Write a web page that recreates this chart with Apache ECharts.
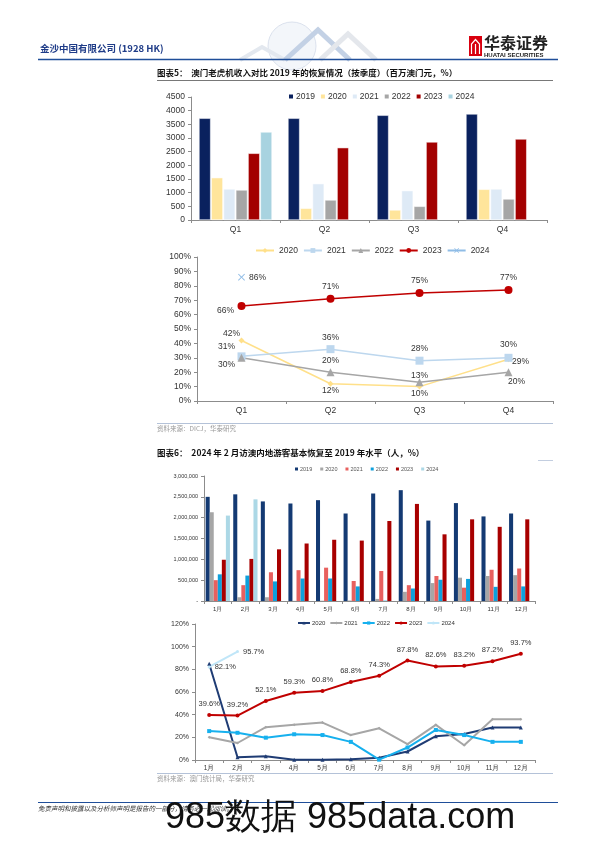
<!DOCTYPE html>
<html><head><meta charset="utf-8">
<script src="https://cdn.jsdelivr.net/npm/echarts@6/dist/echarts.min.js"></script>
<style>html,body{margin:0;padding:0;background:#fff}#c{width:596px;height:842px}</style>
</head><body><div id="c"></div>
<script>
// ---------- Chart 1: slot revenue by quarter (MOP mn) ----------
const quarters = ['Q1', 'Q2', 'Q3', 'Q4'];
const slot2019 = [3720, 3720, 3830, 3878];
const slot2020 = [1548, 427, 366, 1122];
const slot2021 = [1134, 1329, 1073, 1134];
const slot2022 = [1098, 732, 500, 768];
const slot2023 = [2439, 2646, 2854, 2963];
const slot2024 = [3220, null, null, null];
const slotTicks = [0, 500, 1000, 1500, 2000, 2500, 3000, 3500, 4000, 4500];
// ---------- Chart 2: recovery vs 2019 (%) ----------
const rec2020 = [42, 12, 10, 29];
const rec2021 = [31, 36, 28, 30];
const rec2022 = [30, 20, 13, 20];
const rec2023 = [66, 71, 75, 77];
const rec2024 = [86, null, null, null];
const recTicks = [0, 10, 20, 30, 40, 50, 60, 70, 80, 90, 100];
// ---------- Chart 3: mainland visitors by month ----------
const months = ['1月', '2月', '3月', '4月', '5月', '6月', '7月', '8月', '9月', '10月', '11月', '12月'];
const vis2019 = [2500000, 2560000, 2390000, 2340000, 2420000, 2100000, 2580000, 2660000, 1930000, 2350000, 2030000, 2100000];
const vis2020 = [2130000, 90000, 90000, 4000, 7000, 12000, 50000, 220000, 430000, 560000, 600000, 620000];
const vis2021 = [500000, 380000, 690000, 740000, 800000, 480000, 720000, 380000, 600000, 320000, 750000, 780000];
const vis2022 = [640000, 610000, 470000, 540000, 540000, 350000, 8000, 300000, 510000, 530000, 340000, 350000];
const vis2023 = [990000, 1010000, 1240000, 1380000, 1470000, 1450000, 1920000, 2330000, 1600000, 1960000, 1780000, 1960000];
const vis2024 = [2050000, 2440000, null, null, null, null, null, null, null, null, null, null];
const visTicks = [0, 500000, 1000000, 1500000, 2000000, 2500000, 3000000];
// ---------- Chart 4: visitors vs 2019 (%) ----------
const pct2020 = [85, 2.5, 3.3, 0.2, 0.3, 0.6, 2.0, 7.5, 21, 23, 28.6, 28.6];
const pct2021 = [20, 15, 29, 31, 33, 22, 28, 14, 31, 13, 36, 36];
const pct2022 = [25.5, 24, 19.7, 22.7, 22, 16, 0.3, 11, 26.5, 22, 16, 16];
const pct2023 = [39.6, 39.2, 52.1, 59.3, 60.8, 68.8, 74.3, 87.8, 82.6, 83.2, 87.2, 93.7];
const pct2024 = [82.1, 95.7, null, null, null, null, null, null, null, null, null, null];
const pctTicks = [0, 20, 40, 60, 80, 100, 120];

const NUM = 'Liberation Sans, Arial, sans-serif';
const CJK = '"Noto Sans CJK SC", sans-serif';
const trimName = n => n.trim();
const thousands = v => v === 0 ? '-' : String(v).replace(/\B(?=(\d{3})+(?!\d))/g, ',');
const axisGray = '#8c8c8c';

function catAxis(grid, data, fs) {
  return {
    type: 'category', gridIndex: grid, data: data,
    axisLine: { lineStyle: { color: axisGray, width: 1 } },
    axisTick: { show: true, length: 3, lineStyle: { color: axisGray } },
    axisLabel: { fontFamily: NUM, fontSize: fs, color: '#333', margin: 5 }
  };
}
function valAxis(grid, ticks, fs, fmt) {
  return {
    type: 'value', gridIndex: grid, min: ticks[0], max: ticks[ticks.length - 1],
    interval: ticks[1] - ticks[0],
    axisLine: { show: true, lineStyle: { color: axisGray, width: 1 } },
    axisTick: { show: true, length: 3, lineStyle: { color: axisGray } },
    splitLine: { show: false },
    axisLabel: { fontFamily: NUM, fontSize: fs, color: '#333', margin: 6, formatter: fmt }
  };
}

// chart 1 bars
const c1Colors = ['#0a215e', '#ffe59b', '#deeaf6', '#a6a6a6', '#a30000', '#a8d3e0'];
const c1Data = [slot2019, slot2020, slot2021, slot2022, slot2023, slot2024];
const c1Names = ['2019', '2020', '2021', '2022', '2023', '2024'];
const series = [];
c1Data.forEach((d, i) => series.push({
  name: c1Names[i], type: 'bar', xAxisIndex: 0, yAxisIndex: 0, data: d,
  itemStyle: { color: c1Colors[i], borderColor: '#fff', borderWidth: 0.5 },
  barCategoryGap: '18%', barGap: '6%'
}));

// chart 2 lines
const c2Names = ['2020 ', '2021 ', '2022 ', '2023 ', '2024 '];
const c2Data = [rec2020, rec2021, rec2022, rec2023, rec2024];
const c2Colors = ['#ffe08a', '#bdd7ee', '#a6a6a6', '#c00000', '#8fbce6'];
const xPath = 'path://M0,1L1,0L5,4L9,0L10,1L6,5L10,9L9,10L5,6L1,10L0,9L4,5Z';
const c2Symbols = ['diamond', 'rect', 'triangle', 'circle', xPath];
const c2Sizes = [6, 8, 8, 8, 7];
const c2Offsets = [
  [[-10, -7], [0, 7], [0, 7], [12, 2]],
  [[-15, -10], [0, -12], [0, -12], [0, -13]],
  [[-15, 7], [0, -12], [0, -7], [8, 9]],
  [[-16, 5], [0, -12], [0, -12], [0, -12]],
  [[16, 0], [0, 0], [0, 0], [0, 0]]
];
c2Data.forEach((d, i) => series.push({
  name: c2Names[i], type: 'line', xAxisIndex: 1, yAxisIndex: 1,
  data: d.map((v, j) => ({ value: v, label: { offset: c2Offsets[i][j] } })),
  symbol: c2Symbols[i], symbolSize: c2Sizes[i], showAllSymbol: true,
  lineStyle: { color: c2Colors[i], width: 1.5 },
  itemStyle: { color: c2Colors[i] },
  label: { show: true, position: 'inside', formatter: p => p.value + '%', fontFamily: NUM, fontSize: 8.5, color: '#333' }
}));

// chart 3 bars
const c3Names = ['2019  ', '2020  ', '2021  ', '2022  ', '2023  ', '2024  '];
const c3Data = [vis2019, vis2020, vis2021, vis2022, vis2023, vis2024];
const c3Colors = ['#143a73', '#a6a6a6', '#e8605e', '#0ea0dc', '#a80000', '#acd8e6'];
c3Data.forEach((d, i) => series.push({
  name: c3Names[i], type: 'bar', xAxisIndex: 2, yAxisIndex: 2, data: d,
  itemStyle: { color: c3Colors[i] },
  barCategoryGap: '12%', barGap: '0%'
}));

// chart 4 lines
const c4Names = ['2020   ', '2021   ', '2022   ', '2023   ', '2024   '];
const c4Data = [pct2020, pct2021, pct2022, pct2023, pct2024];
const c4Colors = ['#1f3c74', '#a6a6a6', '#16b0ee', '#c00000', '#c0e6f8'];
const c4Symbols = ['triangle', 'diamond', 'rect', 'circle', 'circle'];
const c4Sizes = [4, 3, 4, 4, 3];
c4Data.forEach((d, i) => {
  const s = {
    name: c4Names[i], type: 'line', xAxisIndex: 3, yAxisIndex: 3, data: d,
    symbol: c4Symbols[i], symbolSize: c4Sizes[i], showAllSymbol: true,
    lineStyle: { color: c4Colors[i], width: 2 }, itemStyle: { color: c4Colors[i] }
  };
  if (i === 3) s.label = { show: true, position: 'top', distance: 5, formatter: p => p.value.toFixed(1) + '%', fontFamily: NUM, fontSize: 7.5, color: '#333' };
  if (i === 4) s.label = { show: true, position: 'right', distance: 4, formatter: p => p.value.toFixed(1) + '%', fontFamily: NUM, fontSize: 7.5, color: '#333' };
  series.push(s);
});

function txt(x, y, text, font, fill, align) {
  return { type: 'text', x: x, y: y, style: { text: text, font: font, fill: fill || '#000', align: align || 'left', verticalAlign: 'middle' } };
}
function ln(x1, y1, x2, y2, color, w) {
  return { type: 'line', shape: { x1: x1, y1: y1, x2: x2, y2: y2 }, style: { stroke: color, lineWidth: w || 1 } };
}

const graphics = [
  // header globe decoration (faint)
  { type: 'circle', shape: { cx: 292, cy: 46, r: 24 }, style: { fill: 'rgba(215,225,238,0.3)', stroke: '#d3dbe8', lineWidth: 0.8 } },
  { type: 'polyline', shape: { points: [[240, 60], [262, 47], [285, 60]] }, style: { stroke: '#e3e8ef', lineWidth: 4, fill: null } },
  { type: 'polyline', shape: { points: [[285, 60], [318, 30], [350, 60]] }, style: { stroke: '#c3d1e5', lineWidth: 5, fill: null } },
  { type: 'polyline', shape: { points: [[320, 60], [348, 34], [376, 60]] }, style: { stroke: '#e4e7ec', lineWidth: 5, fill: null } },
  txt(40, 48, '金沙中国有限公司 (1928 HK)', 'bold 9.5px ' + CJK, '#1f3c88'),
  ln(38, 59.5, 558, 59.5, '#1f4e99', 1.5),
  // logo
  { type: 'rect', shape: { x: 469, y: 36, width: 13, height: 20 }, style: { fill: '#d9000f' } },
  { type: 'polyline', shape: { points: [[471.5, 54], [471.5, 44], [475.5, 39.5], [479.5, 44], [479.5, 54]] }, style: { stroke: '#fff', lineWidth: 1.2, fill: null } },
  ln(475.5, 44, 475.5, 54, '#fff', 1.2),
  txt(484, 43, '华泰证券', 'bold 16px ' + CJK, '#222'),
  txt(484, 55, 'HUATAI SECURITIES', 'bold 6px ' + NUM, '#222'),
  // chart 5 title
  txt(157, 73, '图表5：  澳门老虎机收入对比 2019 年的恢复情况（按季度）（百万澳门元，%）', 'bold 8.5px ' + CJK, '#111'),
  ln(157, 80.5, 553, 80.5, '#555', 0.8),
  ln(157, 423.5, 553, 423.5, '#b4c2d8', 1),
  txt(157, 429, '资料来源：DICJ，华泰研究', '6.5px ' + CJK, '#999'),
  // chart 6 title
  txt(157, 453, '图表6：  2024 年 2 月访澳内地游客基本恢复至 2019 年水平（人，%）', 'bold 8.5px ' + CJK, '#111'),
  ln(538, 460.5, 553, 460.5, '#b4c2d8', 0.8),
  ln(157, 773.5, 553, 773.5, '#b4c2d8', 1),
  txt(157, 779, '资料来源：澳门统计局，华泰研究', '6.5px ' + CJK, '#999'),
  // footer
  ln(38, 802.5, 558, 802.5, '#1f4e99', 1.2),
  txt(38, 809, '免责声明和披露以及分析师声明是报告的一部分，请务必一起阅读。', 'italic 6.5px ' + CJK, '#333'),
  txt(165, 818, '985数据 985data.com', '36px ' + NUM, '#111')
];

const option = {
  animation: false,
  backgroundColor: '#fff',
  textStyle: { fontFamily: NUM },
  grid: [
    { left: 191, top: 97, width: 356, height: 123 },
    { left: 197, top: 257, width: 356, height: 144 },
    { left: 204, top: 476, width: 331, height: 125 },
    { left: 195, top: 624, width: 340, height: 136 }
  ],
  xAxis: [catAxis(0, quarters, 8.5), catAxis(1, quarters, 8.5), catAxis(2, months, 6), catAxis(3, months, 6.5)],
  yAxis: [
    valAxis(0, slotTicks, 8.5, v => String(v)),
    valAxis(1, recTicks, 8.5, v => v + '%'),
    valAxis(2, visTicks, 5.5, thousands),
    valAxis(3, pctTicks, 7, v => v + '%')
  ],
  legend: [
    { data: c1Names, left: 282, top: 87, icon: 'rect', itemWidth: 6, itemHeight: 6, itemGap: 4,
      textStyle: { fontFamily: NUM, fontSize: 8.5, color: '#333', padding: [0, 0, 0, -3] } },
    { data: c2Names, left: 250, top: 241, itemWidth: 18, itemHeight: 6, itemGap: 5, formatter: trimName,
      textStyle: { fontFamily: NUM, fontSize: 8.5, color: '#333' } },
    { data: c3Names, left: 290, top: 461, icon: 'rect', itemWidth: 3, itemHeight: 3, itemGap: 8, formatter: trimName,
      textStyle: { fontFamily: NUM, fontSize: 5.5, color: '#555', padding: [0, 0, 0, -3] } },
    { data: c4Names, left: 292, top: 615, itemWidth: 12, itemHeight: 4, itemGap: 4, formatter: trimName,
      textStyle: { fontFamily: NUM, fontSize: 6, color: '#333', padding: [0, 0, 0, -3] } }
  ],
  series: series,
  graphic: { elements: graphics }
};
const chart = echarts.init(document.getElementById('c'), null, { renderer: 'canvas' });
chart.setOption(option);
</script>
</body></html>
